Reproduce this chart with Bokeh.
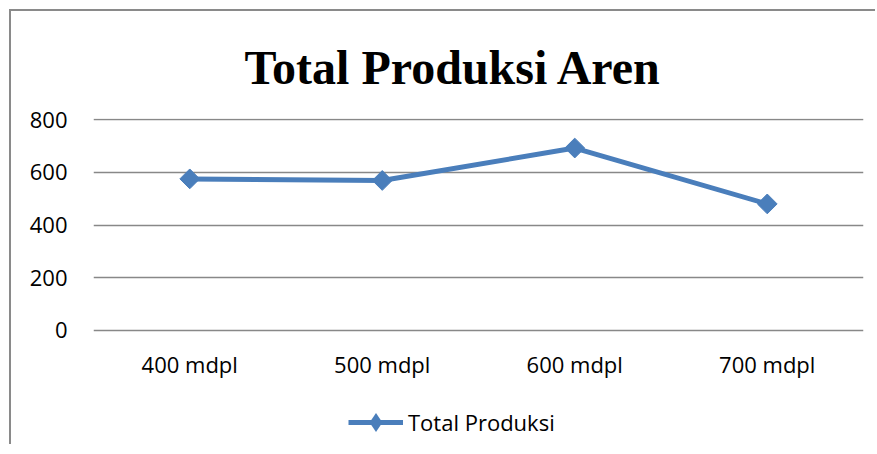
from bokeh.plotting import figure
from bokeh.models import Range1d, Legend, LegendItem, FixedTicker
from bokeh.embed import file_html
from bokeh.resources import INLINE
import math

categories = ["400 mdpl", "500 mdpl", "600 mdpl", "700 mdpl"]
values = [575, 569, 692, 480]
y_ticks = [0, 200, 400, 600, 800]
series_name = "Total Produksi"
title_text = "Total Produksi Aren"

BLUE = "#4a7ebb"
GRID = "#888888"
FONT = "Open Sans"

p = figure(width=866, height=435, x_range=categories, y_range=Range1d(-440, 804),
           output_backend="svg", toolbar_location=None,
           min_border_left=82, min_border_right=14, min_border_top=107, min_border_bottom=0,
           styles={"margin-left": "9px", "margin-top": "9px",
                   "border-left": "2px solid #8a8a8a", "border-top": "2px solid #8a8a8a"})
p.x_range.range_padding = 0
p.outline_line_color = None
p.background_fill_color = "white"
p.border_fill_color = "white"

p.title.text = title_text
p.title.text_font = "Liberation Serif"
p.title.text_font_style = "bold"
p.title.text_font_size = "48px"
p.title.text_color = "black"
p.title.align = "left"
p.title.offset = 151
p.title.standoff = 49

p.xgrid.grid_line_color = None
p.ygrid.grid_line_color = GRID
p.ygrid.grid_line_width = 1.5
p.yaxis.ticker = FixedTicker(ticks=y_ticks)
p.xaxis.fixed_location = 0

for ax in (p.xaxis[0], p.yaxis[0]):
    ax.axis_line_color = None
    ax.major_tick_line_color = None
    ax.minor_tick_line_color = None
    ax.major_tick_out = 0
    ax.major_tick_in = 0
    ax.major_label_text_font = FONT
    ax.major_label_text_font_size = "22px"
    ax.major_label_text_color = "black"
p.yaxis.major_label_standoff = 26
p.xaxis.major_label_standoff = 19

line = p.line(categories, values, line_color=BLUE, line_width=5)
pts = p.scatter(categories, values, marker="square", size=14, angle=math.pi / 4,
                fill_color=BLUE, line_color=BLUE)
# legend key marker: same series, zero size on the plot (legend sizes its own key)
key = p.scatter(categories, values, marker="diamond", size=0,
                fill_color=BLUE, line_color=None)

legend = Legend(items=[LegendItem(label=series_name, renderers=[line, key])],
                location=(255, 0), orientation="horizontal",
                glyph_width=55, glyph_height=48, label_height=26, label_standoff=5,
                padding=0, margin=0, spacing=0,
                label_text_font=FONT, label_text_font_size="22px",
                label_text_color="black",
                border_line_color=None, background_fill_alpha=0)
p.add_layout(legend, "center")

open("out.html", "w").write(file_html(p, INLINE))
